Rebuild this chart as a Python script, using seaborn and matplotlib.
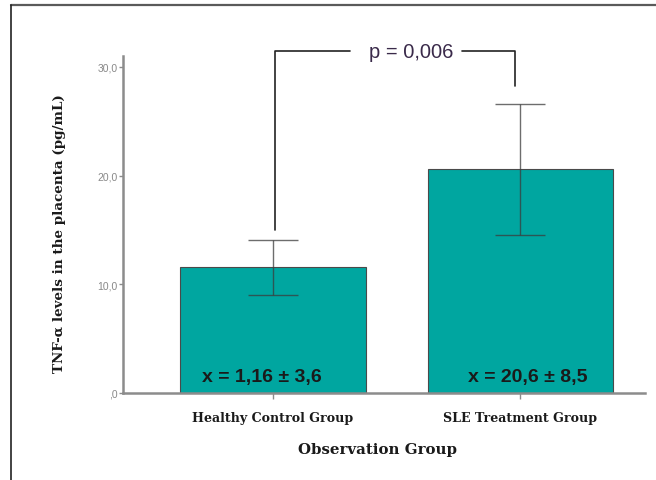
import matplotlib
matplotlib.use("Agg")
import matplotlib.pyplot as plt
from matplotlib.lines import Line2D
import pandas as pd
import seaborn as sns

# --- Data ---
groups = ["Healthy Control Group", "SLE Treatment Group"]
means = [11.6, 20.6]
err_low = [9.0, 14.5]
err_high = [14.1, 26.6]
bar_notes = ["x = 1,16 ± 3,6", "x = 20,6 ± 8,5"]
y_ticks = [0, 10, 20, 30]
y_tick_labels = [",0", "10,0", "20,0", "30,0"]
p_text = "p = 0,006"

df = pd.DataFrame({"group": groups, "mean": means})

sns.set_theme(style="white")

BAR_COLOR = "#00A6A0"
SPINE_COLOR = "#8c8c8c"
SERIF = "DejaVu Serif"
SANS = "Liberation Sans"

fig = plt.figure(figsize=(6.56, 4.81), dpi=100)
ax = fig.add_axes([0.1875, 0.181, 0.7955, 0.7005])

sns.barplot(data=df, x="group", y="mean", color=BAR_COLOR, saturation=1,
            width=0.75, edgecolor="#4a4a4a", linewidth=0.8, errorbar=None, ax=ax)

# asymmetric error bars
xs = range(len(groups))
yerr = [[m - lo for m, lo in zip(means, err_low)],
        [hi - m for m, hi in zip(means, err_high)]]
ax.errorbar(list(xs), means, yerr=yerr, fmt="none", ecolor="#3c3c3c",
            elinewidth=1.0, capsize=18, capthick=1.0, alpha=0.75)

ax.set_xlim(-0.606, 1.503)
ax.set_ylim(0, 31.0)
ax.set_yticks(y_ticks)
ax.set_yticklabels(y_tick_labels, fontsize=7.5, color="#888888", family=SANS)
ax.tick_params(axis="y", length=3, width=1, color=SPINE_COLOR, pad=1, left=True)
ax.tick_params(axis="x", length=4, width=1, color=SPINE_COLOR, pad=9, bottom=True,
               direction="out")
ax.set_xticks(list(xs))
ax.set_xticklabels(groups, fontsize=9.1, fontweight="bold", family=SERIF,
                   color="#1a1a1a")

for side in ["top", "right"]:
    ax.spines[side].set_visible(False)
for side in ["left", "bottom"]:
    ax.spines[side].set_color(SPINE_COLOR)
    ax.spines[side].set_linewidth(1.8)

ax.set_ylabel("TNF-α levels in the placenta (pg/mL)", fontsize=9.7,
              fontweight="bold", family=SERIF, color="#1a1a1a")
ax.yaxis.set_label_coords(-0.109, 0.476)
ax.set_xlabel("Observation Group", fontsize=10.8, fontweight="bold", family=SERIF,
              color="#1a1a1a")
ax.xaxis.set_label_coords(0.4885, -0.145)

# mean ± SD notes inside the bars
note_x = [-0.045, 1.03]
for x, note in zip(note_x, bar_notes):
    ax.text(x, 1.55, note, ha="center", va="center", fontsize=14,
            fontweight="bold", family=SANS, color="#1a1a1a")

# significance bracket
left_x, right_x, top_y = 0.008, 0.98, 31.45
ax.plot([left_x, left_x, 0.311], [15.0, top_y, top_y], color="#222222",
        lw=1.2, clip_on=False)
ax.plot([0.764, right_x, right_x], [top_y, top_y, 28.2], color="#222222",
        lw=1.2, clip_on=False)
ax.text(0.557, top_y, p_text, ha="center", va="center", fontsize=14.5,
        family=SANS, color="#3a2a4a", clip_on=False)

# outer frame (top and left edges)
fig.add_artist(Line2D([11 / 656, 1.0], [1 - 5.5 / 481, 1 - 5.5 / 481],
                      color="#5a5a5a", lw=1.6))
fig.add_artist(Line2D([11 / 656, 11 / 656], [0, 1 - 5.5 / 481],
                      color="#222222", lw=1.2))

fig.savefig("out.png", dpi=100)
